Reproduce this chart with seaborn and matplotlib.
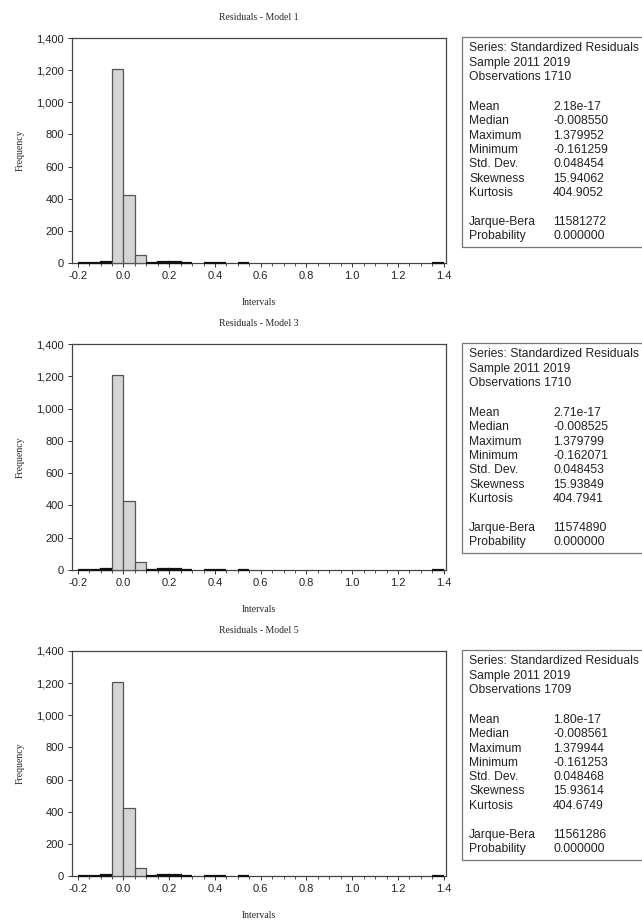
import numpy as np
import matplotlib
matplotlib.use("Agg")
import matplotlib.pyplot as plt
import seaborn as sns
from matplotlib.ticker import MultipleLocator, FuncFormatter
from matplotlib.patches import Rectangle

# Histogram data (bin width 0.05 from -0.2 to 1.4)
bin_edges = [round(-0.2 + 0.05 * i, 2) for i in range(33)]
counts_m1 = [3, 3, 8, 1208, 425, 50, 2, 5, 5, 3, 0, 2, 2, 0, 2, 0,
             0, 0, 0, 0, 0, 0, 0, 0, 0, 0, 0, 0, 0, 0, 0, 1]
counts_m3 = [3, 3, 8, 1208, 425, 50, 2, 5, 5, 3, 0, 2, 2, 0, 2, 0,
             0, 0, 0, 0, 0, 0, 0, 0, 0, 0, 0, 0, 0, 0, 0, 1]
counts_m5 = [3, 3, 8, 1205, 425, 50, 2, 5, 5, 3, 0, 2, 2, 0, 2, 0,
             0, 0, 0, 0, 0, 0, 0, 0, 0, 0, 0, 0, 0, 0, 0, 1]

titles = ["Residuals - Model 1", "Residuals - Model 3", "Residuals - Model 5"]
observations = ["1710", "1710", "1709"]
stat_labels = ["Mean", "Median", "Maximum", "Minimum", "Std. Dev.", "Skewness", "Kurtosis"]
stats_m1 = ["2.18e-17", "-0.008550", "1.379952", "-0.161259", "0.048454", "15.94062", "404.9052"]
stats_m3 = ["2.71e-17", "-0.008525", "1.379799", "-0.162071", "0.048453", "15.93849", "404.7941"]
stats_m5 = ["1.80e-17", "-0.008561", "1.379944", "-0.161253", "0.048468", "15.93614", "404.6749"]
jb_m1 = ["11581272", "0.000000"]
jb_m3 = ["11574890", "0.000000"]
jb_m5 = ["11561286", "0.000000"]

all_counts = [counts_m1, counts_m3, counts_m5]
all_stats = [stats_m1, stats_m3, stats_m5]
all_jb = [jb_m1, jb_m3, jb_m5]

sns.set_style("white")
W, H = 642, 922
fig = plt.figure(figsize=(W / 100, H / 100), dpi=100)

serif = "Liberation Serif"
sans = "Liberation Sans"

# axes top / bottom in pixels
panels = [(38, 263), (344, 570), (651, 876)]
left_px, right_px = 72, 446

centers = [(bin_edges[i] + bin_edges[i + 1]) / 2 for i in range(len(bin_edges) - 1)]

for k, (top, bot) in enumerate(panels):
    ax = fig.add_axes([left_px / W, 1 - bot / H, (right_px - left_px) / W, (bot - top) / H])
    sns.histplot(x=centers, weights=all_counts[k], bins=bin_edges, ax=ax,
                 color="#d4d4d4", edgecolor="#555555", linewidth=0.9, alpha=1)
    # tiny bins show up as a thick dark line on the axis, as in the original
    for p in ax.patches:
        p.set_zorder(3)
        p.set_clip_on(False)
        if 0 < p.get_height() < 20:
            p.set_edgecolor("#111111")
            p.set_linewidth(1.6)
        elif p.get_height() == 0:
            p.set_visible(False)
    ax.set_xlim(-0.225, 1.41)
    ax.set_ylim(0, 1400)
    ax.yaxis.set_major_locator(MultipleLocator(200))
    ax.yaxis.set_major_formatter(FuncFormatter(lambda v, p: f"{int(v):,}"))
    ax.xaxis.set_major_locator(MultipleLocator(0.2))
    ax.xaxis.set_minor_locator(MultipleLocator(0.05))
    ax.xaxis.set_major_formatter(FuncFormatter(lambda v, p: f"{v:.1f}"))
    ax.tick_params(axis="both", which="major", direction="out", length=3, width=0.7,
                   color="#333333", labelsize=8, pad=3, bottom=True, left=True,
                   labelcolor="#222222")
    ax.tick_params(axis="x", which="minor", direction="out", length=2, width=0.6,
                   color="#333333", bottom=True)
    for lab in ax.get_xticklabels() + ax.get_yticklabels():
        lab.set_fontfamily(sans)
    for s in ax.spines.values():
        s.set_color("#444444")
        s.set_linewidth(0.9)
    ax.set_title(titles[k], fontsize=7, family=serif, pad=13)
    ax.set_xlabel("Intervals", fontsize=7, family=serif, labelpad=12)
    ax.set_ylabel("Frequency", fontsize=7, family=serif, labelpad=8)

    # statistics box
    box_top = top - 1
    box_bot = top + 209
    fig.add_artist(Rectangle((462 / W, 1 - box_bot / H), 200 / W, (box_bot - box_top) / H,
                             transform=fig.transFigure, fill=False,
                             edgecolor="#777777", linewidth=0.9))
    lx, vx = 469 / W, 553 / W
    def put(x, y, s):
        fig.text(x, 1 - y / H, s, fontsize=8.7, family=sans, color="#222222", va="center")
    put(lx, top + 10, "Series: Standardized Residuals")
    put(lx, top + 25, "Sample 2011 2019")
    put(lx, top + 39, "Observations " + observations[k])
    for i, (lab, val) in enumerate(zip(stat_labels, all_stats[k])):
        y = top + 69 + i * 14.3
        put(lx, y, lab)
        put(vx, y, val)
    for i, (lab, val) in enumerate(zip(["Jarque-Bera", "Probability"], all_jb[k])):
        y = top + 184 + i * 14
        put(lx, y, lab)
        put(vx, y, val)

fig.savefig("out.png", dpi=100)
